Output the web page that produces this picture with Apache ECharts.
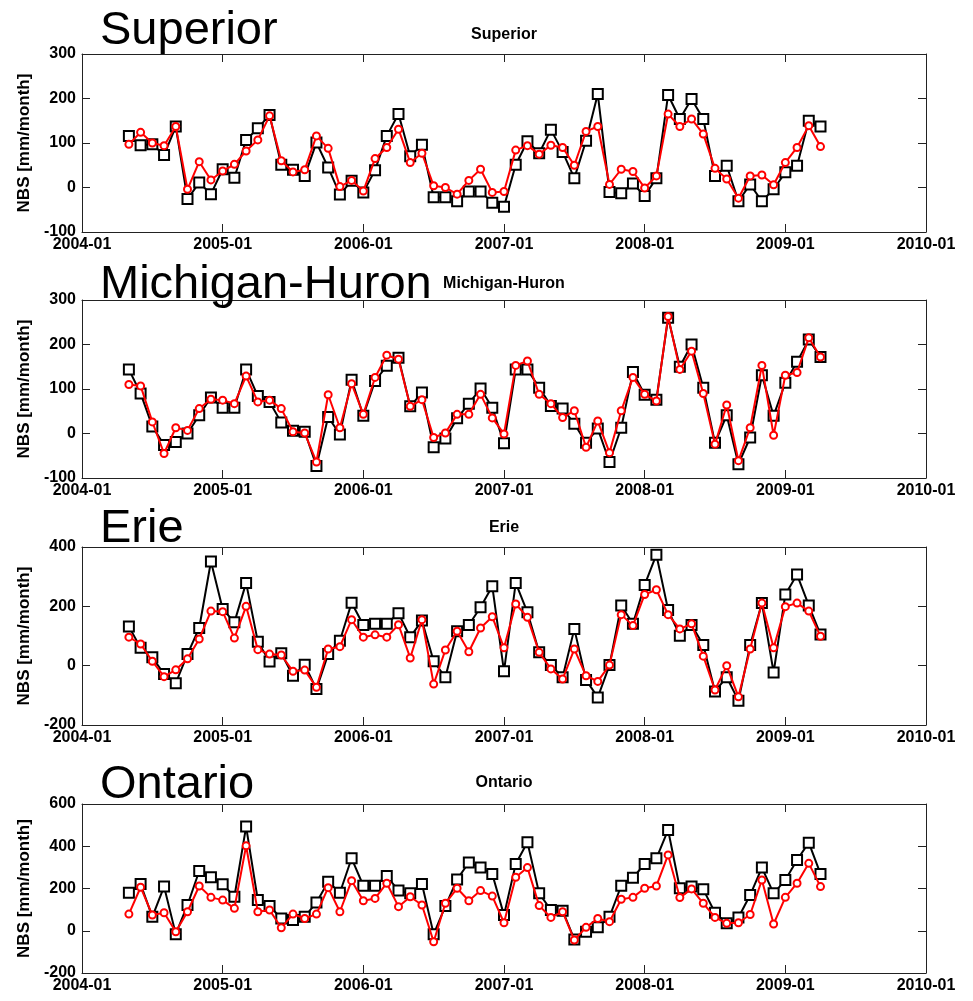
<!DOCTYPE html>
<html><head><meta charset="utf-8">
<script src="https://cdn.jsdelivr.net/npm/echarts@6/dist/echarts.min.js"></script>
<style>html,body{margin:0;padding:0;background:#fff}#c{width:973px;height:1001px}</style>
</head><body><div id="c"></div>
<script>
const lakes = ['Superior', 'Michigan-Huron', 'Erie', 'Ontario'];
const dates = [
  '2004-05','2004-06','2004-07','2004-08','2004-09','2004-10','2004-11','2004-12',
  '2005-01','2005-02','2005-03','2005-04','2005-05','2005-06','2005-07','2005-08','2005-09','2005-10','2005-11','2005-12',
  '2006-01','2006-02','2006-03','2006-04','2006-05','2006-06','2006-07','2006-08','2006-09','2006-10','2006-11','2006-12',
  '2007-01','2007-02','2007-03','2007-04','2007-05','2007-06','2007-07','2007-08','2007-09','2007-10','2007-11','2007-12',
  '2008-01','2008-02','2008-03','2008-04','2008-05','2008-06','2008-07','2008-08','2008-09','2008-10','2008-11','2008-12',
  '2009-01','2009-02','2009-03','2009-04'
];
const xTickLabels = ['2004-01','2005-01','2006-01','2007-01','2008-01','2009-01','2010-01'];

const superiorBlack = [116,95,97,73,137,-26,11,-15,41,22, 107,133,163,51,40,26,101,45,-16,15, -11,39,116,165,70,96,-22,-22,-31,-9, -9,-34,-43,51,104,77,130,80,21,105, 210,-10,-13,9,-19,21,208,154,199,154, 26,49,-31,7,-31,-4,34,49,150,137];
const superiorRed = [97,124,100,94,137,-4,58,17,37,52, 82,107,161,60,35,40,116,88,2,16, -8,65,90,131,56,77,4,0,-15,16, 41,-11,-9,84,94,75,95,90,50,126, 137,7,41,36,-1,26,165,137,154,120, 43,19,-24,26,28,6,56,90,139,92];
const michiganBlack = [144,90,16,-26,-19,0,41,81,58,58, 144,84,71,25,6,4,-73,37,-2,121, 40,118,152,170,61,92,-31,-11,34,67, 101,58,-22,144,144,103,62,56,22,-21, 11,-64,13,138,87,76,260,150,200,103, -21,41,-69,-9,131,40,114,161,211,172];
const michiganRed = [110,107,26,-45,13,7,56,77,75,67, 129,71,75,56,4,1,-64,87,13,112, 43,126,176,167,61,76,-9,1,43,43, 88,35,-1,153,163,88,67,36,51,-31, 28,-43,51,126,88,73,263,144,185,90, -24,64,-61,13,153,-4,131,137,215,172];
const erieBlack = [132,60,28,-28,-59,39,127,351,191,146, 279,81,14,42,-34,3,-79,39,84,212, 137,141,141,177,96,152,15,-39,116,137, 197,268,-19,279,180,45,2,-39,124,-48, -107,2,203,141,272,374,188,101,137,70, -87,-39,-118,70,211,-23,240,307,203,105];
const erieRed = [96,73,15,-37,-14,23,90,184,182,93, 200,54,39,36,-19,-15,-73,56,64,155, 96,104,96,138,26,155,-62,53,116,47, 127,165,60,208,163,45,-11,-45,56,-34, -53,2,172,135,240,256,172,124,141,32, -82,0,-105,56,211,60,199,211,184,99];
const ontarioBlack = [180,221,66,209,-16,122,283,253,220,161, 493,145,117,58,51,66,134,232,180,343, 213,213,259,190,177,221,-16,117,243,323, 299,269,74,316,419,177,98,95,-41,-5, 16,66,213,251,316,343,477,201,209,196, 85,35,63,169,299,177,240,335,417,269];
const ontarioRed = [79,206,74,85,-5,90,212,158,145,106, 402,90,98,14,79,58,79,204,90,237, 142,153,225,114,161,122,-52,130,201,142, 190,164,38,253,299,119,63,90,-44,16, 58,43,149,158,201,212,359,157,198,130, 63,35,38,77,240,32,158,225,319,209];

const blackSets = [superiorBlack, michiganBlack, erieBlack, ontarioBlack];
const redSets = [superiorRed, michiganRed, erieRed, ontarioRed];
const yMin = [-100, -100, -200, -200];
const yMax = [300, 300, 400, 600];
const yStep = [100, 100, 200, 200];

// layout
const gridTops = [54, 300, 547, 804];
const gridHeights = [178, 178, 178, 169];
const bigTitleY = [31, 285, 529, 785];
const smallTitleY = [35, 284, 528, 783];

function monthIndex(s) {
  const [y, m] = s.split('-').map(Number);
  return (y - 2004) * 12 + (m - 1);
}
const xs = dates.map(monthIndex);

const FONT = '"Liberation Sans", Arial, sans-serif';
const AX = '#222';

const grids = [], xAxes = [], yAxes = [], series = [], graphics = [];
lakes.forEach((name, i) => {
  grids.push({left: 82, right: 47, top: gridTops[i], height: gridHeights[i], containLabel: false});
  const xBase = {
    gridIndex: i, type: 'value', min: 0, max: 72, interval: 12,
    axisLine: {show: true, onZero: false, lineStyle: {color: AX, width: 1}},
    axisTick: {show: true, inside: true, length: 8, lineStyle: {color: AX}},
    splitLine: {show: false}
  };
  xAxes.push(Object.assign({}, xBase, {
    position: 'bottom',
    axisLabel: {show: true, margin: 5, color: '#000', fontFamily: FONT, fontWeight: 'bold', fontSize: 16,
      showMinLabel: true, showMaxLabel: true,
      formatter: v => xTickLabels[Math.round(v / 12)] || ''}
  }));
  xAxes.push(Object.assign({}, xBase, {position: 'top', axisLabel: {show: false}}));
  const yBase = {
    gridIndex: i, type: 'value', min: yMin[i], max: yMax[i], interval: yStep[i],
    axisLine: {show: true, onZero: false, lineStyle: {color: AX, width: 1}},
    axisTick: {show: true, inside: true, length: 8, lineStyle: {color: AX}},
    splitLine: {show: false}
  };
  yAxes.push(Object.assign({}, yBase, {
    position: 'left',
    name: 'NBS [mm/month]', nameLocation: 'middle', nameGap: 45,
    nameTextStyle: {color: '#000', fontFamily: FONT, fontWeight: 'bold', fontSize: 17},
    axisLabel: {show: true, margin: 6, color: '#000', fontFamily: FONT, fontWeight: 'bold', fontSize: 16}
  }));
  yAxes.push(Object.assign({}, yBase, {position: 'right', axisLabel: {show: false}}));

  series.push({
    name: name + ' (black)', type: 'line', xAxisIndex: 2 * i, yAxisIndex: 2 * i,
    data: xs.map((x, k) => [x, blackSets[i][k]]),
    symbol: 'emptyRect', symbolSize: 10, showSymbol: true, z: 2,
    lineStyle: {color: '#000', width: 2},
    itemStyle: {color: '#000', borderColor: '#000', borderWidth: 2},
    animation: false
  });
  series.push({
    name: name + ' (red)', type: 'line', xAxisIndex: 2 * i, yAxisIndex: 2 * i,
    data: xs.map((x, k) => [x, redSets[i][k]]),
    symbol: 'emptyCircle', symbolSize: 7, showSymbol: true, z: 3,
    lineStyle: {color: '#ff0000', width: 2},
    itemStyle: {color: '#ff0000', borderColor: '#ff0000', borderWidth: 1.5},
    animation: false
  });

  graphics.push({
    type: 'text', x: 100, y: bigTitleY[i], z: 100,
    style: {text: name, font: 'normal 47px ' + FONT, fill: '#000', textAlign: 'left', textVerticalAlign: 'middle'}
  });
  graphics.push({
    type: 'text', x: 504, y: smallTitleY[i], z: 100,
    style: {text: name, font: 'bold 16px ' + FONT, fill: '#000', textAlign: 'center', textVerticalAlign: 'middle'}
  });
});

const chart = echarts.init(document.getElementById('c'), null, {renderer: 'canvas'});
chart.setOption({
  backgroundColor: '#fff',
  animation: false,
  grid: grids, xAxis: xAxes, yAxis: yAxes, series: series,
  graphic: graphics,
  tooltip: {show: false}
});
</script>
</body></html>
